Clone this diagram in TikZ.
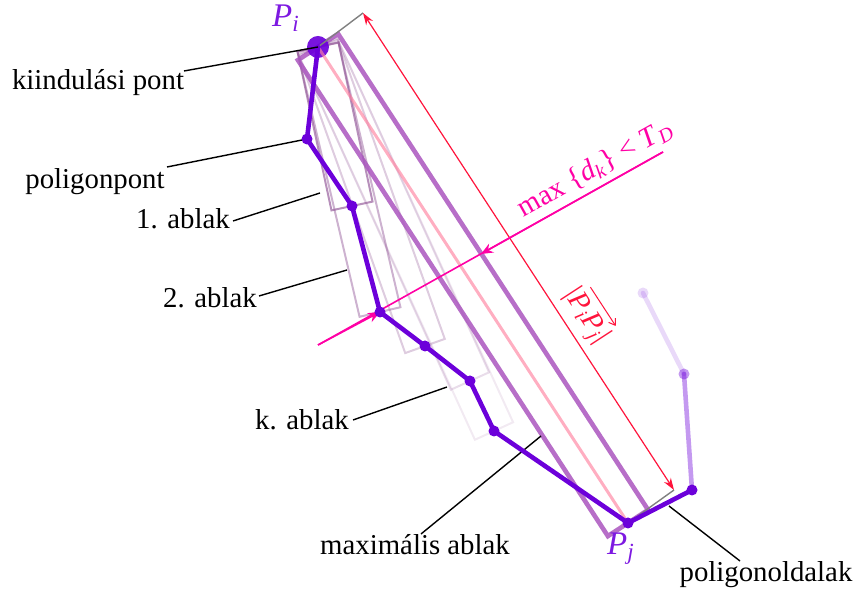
\documentclass[tikz,border=0pt]{standalone}
\usepackage{amsmath}
\usepackage{fontspec}
\setmainfont{Liberation Serif}
\usetikzlibrary{arrows.meta,calc}
\definecolor{polyc}{RGB}{108,0,218}
\definecolor{maxc}{RGB}{170,85,190}
\definecolor{pinkc}{RGB}{255,130,160}
\definecolor{redc}{RGB}{255,20,60}
\definecolor{magc}{RGB}{255,0,165}
\definecolor{winc}{RGB}{145,85,150}
\definecolor{lblc}{RGB}{125,25,225}
\begin{document}
\begin{tikzpicture}[x=0.5pt,y=-0.5pt,
  txt/.style={font=\fontsize{14.4}{17}\selectfont, inner sep=0pt},
  ptxt/.style={font=\fontsize{16.5}{19}\selectfont, inner sep=0pt, text=lblc},
  leader/.style={draw=black, line width=0.7pt},
  winbox/.style={draw=winc, line width=1pt},
  maxbox/.style={draw=maxc, line width=2.3pt, draw opacity=0.85},
  poly/.style={draw=polyc, line width=2.3pt, line join=round, line cap=round},
  mag/.style={draw=magc, line width=0.8pt},
]
\useasboundingbox (0,0) rectangle (858,592);
% polygon points
\coordinate (p1) at (318,47);
\coordinate (p2) at (307,139);
\coordinate (p3) at (352,206);
\coordinate (p4) at (380,312);
\coordinate (p5) at (425,346);
\coordinate (p6) at (470,381);
\coordinate (p7) at (494,431);
\coordinate (p8) at (628,523);
\coordinate (p9) at (692,490);
\coordinate (p10) at (684,374);
\coordinate (p11) at (643,293);
% helper points
\coordinate (r1) at (363,13);
\coordinate (r2) at (674,490);
\coordinate (m1) at (318,345);
\coordinate (m2) at (663,152);
\coordinate (me) at (481,254);
% windows
\foreach \k/\op in {p3/0.65,p4/0.45,p5/0.3,p6/0.2,p7/0.12}{
  \draw[winbox, draw opacity=\op] ($(p1)!10.5pt!90:(\k)$) -- ($(\k)!10.5pt!-90:(p1)$)
    -- ($(\k)!10.5pt!90:(p1)$) -- ($(p1)!10.5pt!-90:(\k)$) -- cycle;
}
% maximal window
\draw[maxbox] ($(p1)!12pt!90:(p8)$) -- ($(p8)!12pt!-90:(p1)$)
    -- ($(p8)!12pt!90:(p1)$) -- ($(p1)!12pt!-90:(p8)$) -- cycle;
% big start dot
\fill[polyc, fill opacity=0.92] (p1) circle (5.5pt);
% axis
\draw[pinkc, line width=1.5pt, draw opacity=0.65] (p1) -- (p8);
% gray ticks
\draw[gray, line width=0.7pt] (p1) -- (r1);
\draw[gray, line width=0.7pt] (p8) -- (r2);
% red dimension
\draw[redc, line width=0.6pt, {Stealth[length=6pt,width=4pt]}-{Stealth[length=6pt,width=4pt]}] (r1) -- (r2)
  node[pos=0.66, sloped, above=3pt, txt, text=redc] (rl) {|\textit{P}$_{\textit{i}}$\textit{P}$_{\textit{j}}$|};
\coordinate (ra) at ($(rl.north west)!0.14!(rl.north east)$);
\coordinate (rb) at ($(rl.north west)!0.9!(rl.north east)$);
\draw[redc, line width=0.5pt, -{Straight Barb[length=3pt,width=4pt]}] ($(ra)!2.5pt!90:(rb)$) -- ($(rb)!2.5pt!-90:(ra)$);
% magenta dimension
\draw[mag] (m1) -- (m2)
  node[pos=0.83, sloped, above=3pt, txt, text=magc] (ml) {max \{\textit{d}$_{\textit{k}}$\} < \textit{T}$_{\textit{D}}$};
\draw[mag, -{Stealth[length=6pt,width=5pt]}] (m1) -- (p4);
\draw[mag, -{Stealth[length=6pt,width=5pt]}] (m2) -- (me);
% text labels
\node[txt] (kp) at (98,83) {kiindulási pont};
\node[txt] (pp) at (95,182) {poligonpont};
\node[txt] (w1) at (183,219) {1. ablak};
\node[txt] (w2) at (210,298) {2. ablak};
\node[txt] (wk) at (302,420) {k. ablak};
\node[txt] (mw) at (415,545) {maximális ablak};
\node[txt] (po) at (766,575) {poligonoldalak};
\node[ptxt] (Pi) at (286,18) {\textit{P}$_{\textit{i}}$};
\node[ptxt] (Pj) at (621,549) {\textit{P}$_{\textit{j}}$};
% leader lines
\coordinate (kpA) at (184,71);
\coordinate (ppA) at (167,167);
\coordinate (w1A) at (233,221);
\coordinate (w1B) at (320,193);
\coordinate (w2A) at (259,296);
\coordinate (w2B) at (347,270);
\coordinate (wkA) at (353,420);
\coordinate (wkB) at (447,387);
\coordinate (mwA) at (421,534);
\coordinate (mwB) at (541,436);
\coordinate (poA) at (740,561);
\coordinate (poB) at (669,506);
\draw[leader] (ppA) -- (p2);
\draw[leader] (w1A) -- (w1B);
\draw[leader] (w2A) -- (w2B);
\draw[leader] (wkA) -- (wkB);
\draw[leader] (mwA) -- (mwB);
\draw[leader] (poA) -- (poB);
% polygon
\draw[poly] (p1) -- (p2) -- (p3) -- (p4) -- (p5) -- (p6) -- (p7) -- (p8) -- (p9);
\draw[poly, draw opacity=0.4] (p9) -- (p10);
\draw[poly, draw opacity=0.15] (p10) -- (p11);
\foreach \p in {p2,p3,p4,p5,p6,p7,p8,p9}{\fill[polyc] (\p) circle (2.75pt);}
\fill[polyc, fill opacity=0.4] (p10) circle (2.75pt);
\fill[polyc, fill opacity=0.15] (p11) circle (2.75pt);
\draw[leader] (kpA) -- (p1);
\end{tikzpicture}
\end{document}
